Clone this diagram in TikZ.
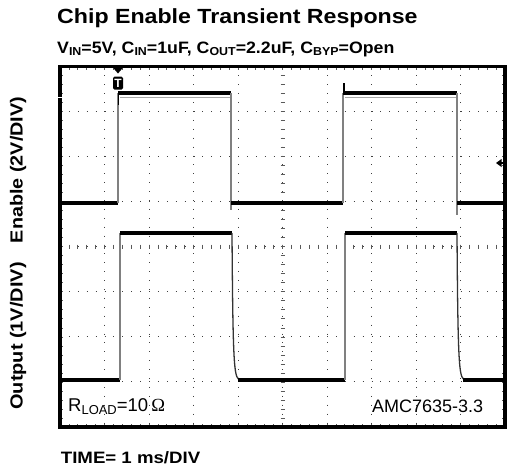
\documentclass[tikz,border=0pt]{standalone}
\usepackage{graphicx}
\usepackage{fontspec}
\setmainfont{Liberation Sans}
\newfontfamily\omegafont{Liberation Serif}
\newcommand{\lowtxt}[1]{\raisebox{-0.3ex}{\scalebox{0.7}{#1}}}
\begin{document}
\begin{tikzpicture}[
    x=1pt, y=-1pt,
    grid/.style={black!75, line width=0.9pt, dash pattern=on 0.9pt off 8pt},
    tick/.style={black!65, line width=0.7pt},
    frame/.style={line width=3.6pt},
    trace/.style={line width=4pt},
    edge/.style={black!50, line width=1.3pt},
    ghost/.style={black!35, line width=0.8pt},
    head/.style={font=\bfseries, inner sep=0pt, anchor=base west},
    plain/.style={inner sep=0pt, anchor=base west, font=\fontsize{18.5}{19}\selectfont},
    ]
    \useasboundingbox (0,0) rectangle (507,472);
    \def\ox{60} \def\oy{66.5} \def\dx{44.5} \def\dy{45.06}

    % graticule
    \foreach \i in {1,...,9}
      \draw[grid] (\ox+\i*\dx,\oy) -- (\ox+\i*\dx,\oy+8*\dy);
    \foreach \j in {1,...,7}
      \draw[grid] (\ox,\oy+\j*\dy) -- (\ox+10*\dx,\oy+\j*\dy);
    \foreach \k in {1,...,49} {
      \draw[tick] (\ox+\k*\dx/5,\oy) -- ++(0,3);
      \draw[tick] (\ox+\k*\dx/5,\oy+8*\dy) -- ++(0,-3);
      \draw[tick] (\ox+\k*\dx/5,\oy+4*\dy-2) -- ++(0,4);
    }
    \foreach \k in {1,...,39} {
      \draw[tick] (\ox,\oy+\k*\dy/5) -- ++(3,0);
      \draw[tick] (\ox+10*\dx,\oy+\k*\dy/5) -- ++(-3,0);
      \draw[tick] (\ox+5*\dx-2,\oy+\k*\dy/5) -- ++(4,0);
    }

    % enable trace
    \draw[ghost] (120,97) -- (231,97);
    \draw[ghost] (345,97) -- (456,97);
    \draw[trace] (\ox,203) -- (118,203);
    \draw[edge] (118,203) -- (118,93);
    \draw[trace] (118,93) -- (231,93);
    \draw[edge] (231,93) -- (231,210);
    \draw[trace] (231,203) -- (343,203);
    \draw[edge] (343,203) -- (343,93);
    \draw[trace] (343,93) -- (457,93);
    \draw[edge] (457,93) -- (457,215);
    \draw[trace] (457,203) -- (\ox+10*\dx,203);
    \draw[line width=1.6pt] (118.5,93) -- (118.5,105);
    \draw[line width=1.6pt] (344,93) -- (344,83);

    % output trace
    \draw[trace] (\ox,380) -- (120,380);
    \draw[edge] (120,380) -- (120,233);
    \draw[trace] (120,233) -- (232,233);
    \draw[edge, black!80] (232,233) .. controls (233,372) and (234,380) .. (241,380);
    \draw[trace] (238,380) -- (345,380);
    \draw[edge] (345,380) -- (345,233);
    \draw[trace] (345,233) -- (457,233);
    \draw[edge, black!80] (457,233) .. controls (458,372) and (459,380) .. (466,380);
    \draw[trace] (463,380) -- (\ox+10*\dx,380);

    % frame and markers
    \draw[frame] (\ox,\oy) rectangle (\ox+10*\dx,\oy+8*\dy);
    \draw[white, line width=1pt] (55,97) -- (63,97);
    \fill (112.5,67) -- (123.5,67) -- (118,73.5) -- cycle;
    \node[fill=black, text=white, rounded corners=1.5pt, minimum width=10pt,
      minimum height=13pt, inner sep=0pt,
      font=\bfseries\fontsize{12}{12}\selectfont] (trig) at (118,83) {T};
    \fill (496,163) -- (501.5,159) -- (501.5,167) -- cycle;
    \draw[line width=1.2pt] (500,163) -- (505,163);

    % texts
    \node[head, font=\bfseries\fontsize{20.5}{22}\selectfont] (title) at (57,23.5)
      {\scalebox{1.13}[1]{Chip Enable Transient Response}};
    \node[head, font=\bfseries\fontsize{16.5}{17}\selectfont] (cond) at (57,53)
      {\scalebox{1.075}[1]{V\lowtxt{IN}=5V, C\lowtxt{IN}=1uF, C\lowtxt{OUT}=2.2uF, C\lowtxt{BYP}=Open}};
    \node[font=\bfseries\fontsize{17.5}{18}\selectfont, rotate=90, inner sep=0pt]
      (enlab) at (18,170) {\scalebox{1.13}[1]{Enable (2V/DIV)}};
    \node[font=\bfseries\fontsize{17.5}{18}\selectfont, rotate=90, inner sep=0pt]
      (outlab) at (18,336) {\scalebox{1.14}[1]{Output (1V/DIV)}};
    \node[plain] (rload) at (68,411.5) {R\lowtxt{LOAD}=10\,{\omegafont Ω}};
    \node[plain, font=\fontsize{18}{19}\selectfont] (part) at (372,412) {AMC7635-3.3};
    \node[head, font=\bfseries\fontsize{16.5}{17}\selectfont] (time) at (60.7,463.5)
      {\scalebox{1.13}[1]{TIME= 1 ms/DIV}};
\end{tikzpicture}
\end{document}
